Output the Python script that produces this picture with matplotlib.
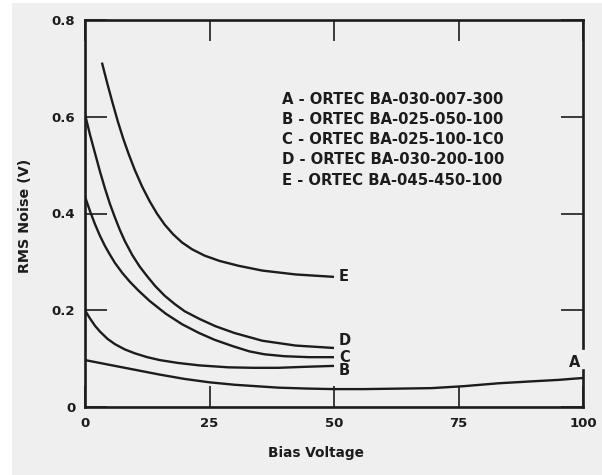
import matplotlib
matplotlib.use("Agg")
import matplotlib.pyplot as plt
from matplotlib.patches import Rectangle

# ---- data ----
xA = [0, 5, 10, 15, 20, 25, 30, 38.8, 45, 50, 56, 63, 69.6, 76, 83, 89.7, 95, 100]
yA = [0.097, 0.087, 0.077, 0.067, 0.058, 0.051, 0.046, 0.040, 0.038, 0.037, 0.037, 0.038,
      0.039, 0.043, 0.049, 0.053, 0.056, 0.060]

xB = [0, 1, 2, 3, 4.5, 6, 8, 10, 12.5, 15, 18.7, 23, 28.8, 33.8, 38.8, 44, 50]
yB = [0.200, 0.183, 0.168, 0.156, 0.141, 0.130, 0.119, 0.111, 0.103, 0.097, 0.091, 0.086,
      0.082, 0.081, 0.081, 0.083, 0.085]

xC = [0, 1, 2, 3, 4, 5, 6, 7.5, 9, 10.8, 13, 16.2, 19.5, 22.9, 26, 29.6, 33, 36, 40, 45, 50]
yC = [0.435, 0.405, 0.378, 0.354, 0.333, 0.315, 0.298, 0.277, 0.259, 0.240, 0.219, 0.193,
      0.171, 0.153, 0.139, 0.126, 0.115, 0.109, 0.105, 0.103, 0.103]

xD = [0, 1, 2, 3, 4, 5, 6, 7, 8, 9.5, 11, 12.5, 14.1, 16, 18, 20, 23, 26.2, 30, 35.6, 42.3, 50]
yD = [0.605, 0.563, 0.525, 0.487, 0.452, 0.420, 0.392, 0.366, 0.343, 0.314, 0.290, 0.270,
      0.250, 0.230, 0.213, 0.198, 0.182, 0.167, 0.153, 0.137, 0.127, 0.122]

xE = [3.4, 4.5, 5.5, 6.6, 7.7, 8.8, 10, 11.5, 13, 14.5, 16, 17.7, 19.5, 21.5, 24, 27, 30.8,
      35.6, 42.3, 50]
yE = [0.712, 0.668, 0.630, 0.590, 0.554, 0.522, 0.490, 0.455, 0.425, 0.399, 0.377, 0.357,
      0.340, 0.326, 0.313, 0.302, 0.292, 0.282, 0.274, 0.269]

curve_names = ["A", "B", "C", "D", "E"]
legend_lines = [
    "A - ORTEC BA-030-007-300",
    "B - ORTEC BA-025-050-100",
    "C - ORTEC BA-025-100-1C0",
    "D - ORTEC BA-030-200-100",
    "E - ORTEC BA-045-450-100",
]
xticks = [0, 25, 50, 75, 100]
yticks = [0, 0.2, 0.4, 0.6, 0.8]
ytick_labels = ["0", "0.2", "0.4", "0.6", "0.8"]

INK = "#1c1c1c"
BG = "#efefef"
FONT = "DejaVu Sans"

W, H = 602, 475
fig = plt.figure(figsize=(W / 100, H / 100), dpi=100)
fig.patch.set_facecolor("white")
fig.patches.append(Rectangle((12 / W, 0), 1, 1 - 3 / H, transform=fig.transFigure,
                             facecolor=BG, edgecolor="none", zorder=-10))

ax = fig.add_axes([85 / W, 1 - 407 / H, (583 - 85) / W, 387 / H])
ax.set_facecolor("none")
ax.set_xlim(0, 100)
ax.set_ylim(0, 0.8)

series = [(xA, yA), (xB, yB), (xC, yC), (xD, yD), (xE, yE)]
for (xs, ys) in series:
    ax.plot(xs, ys, color=INK, lw=1.7, solid_capstyle="butt", solid_joinstyle="round")

# curve letter labels
lab_font = dict(family=FONT, weight="bold", fontsize=10.5, color=INK)
for name, (xs, ys) in zip(curve_names[1:], series[1:]):
    dy = {"B": -0.010, "C": 0.000, "D": 0.016, "E": 0.0}[name]
    ax.text(xs[-1] + 1.0, ys[-1] + dy, name, ha="left", va="center", **lab_font)
ax.text(xA[-1] - 1.6, yA[-1] + 0.033, "A", ha="center", va="center", **lab_font)

# frame
for s in ["left", "top", "bottom", "right"]:
    ax.spines[s].set_color(INK)
    ax.spines[s].set_linewidth(1.9)
ax.spines["right"].set_bounds(0.122, 0.8)
ax.axvline(100, ymin=0, ymax=0.096, color=INK, lw=1.9, clip_on=False)

ax.set_xticks(xticks)
ax.set_xticklabels([str(t) for t in xticks])
ax.set_yticks(yticks)
ax.set_yticklabels(ytick_labels)
ax.tick_params(axis="both", direction="in", length=16, width=1.2, color=INK,
               top=True, right=True, labelsize=9.5, pad=7, labelcolor=INK)
ax.tick_params(axis="x", length=15)
for lab in ax.get_xticklabels() + ax.get_yticklabels():
    lab.set_fontfamily(FONT)
    lab.set_fontweight("bold")

# legend block
for i, line in enumerate(legend_lines):
    fig.text(282 / W, 1 - (100 + 20 * i) / H, line, ha="left", va="center",
             family=FONT, weight="bold", fontsize=10.7, color=INK)

# axis titles
fig.text(316 / W, 1 - 453 / H, "Bias Voltage", ha="center", va="center",
         family=FONT, weight="bold", fontsize=9.8, color=INK)
fig.text(25 / W, 1 - 216 / H, "RMS Noise (V)", ha="center", va="center",
         rotation=90, family=FONT, weight="bold", fontsize=10.3, color=INK)

fig.savefig("out.png", dpi=100, facecolor=fig.get_facecolor())
